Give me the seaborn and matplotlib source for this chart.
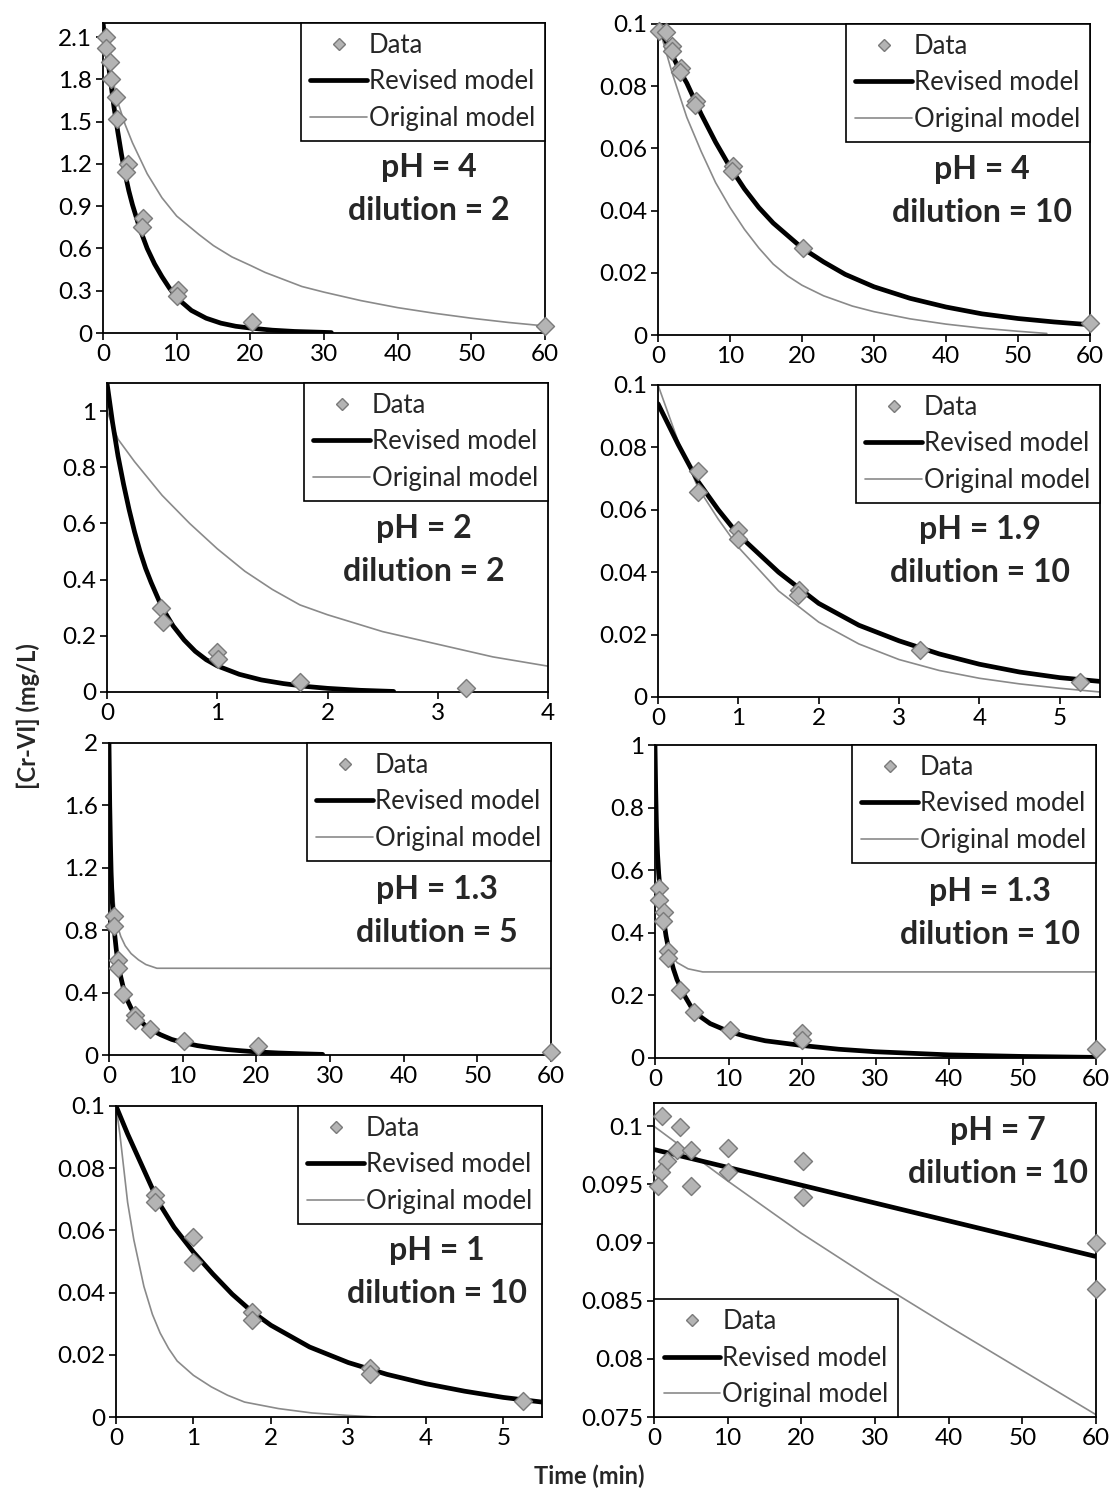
import numpy as np
import pandas as pd
import seaborn as sns
import matplotlib.pyplot as plt
from matplotlib.ticker import FuncFormatter
from matplotlib.lines import Line2D

sns.set_theme(style="ticks")
plt.rcParams['font.family'] = ['Lato', 'DejaVu Sans']

W, H = 1111, 1492

## **Data**

# pH = 4, dilution = 2
p1_t = [0.34, 0.44, 0.93, 1.02, 1.8, 1.9, 3.36, 3.17, 5.46, 5.36, 10.2, 10.0, 20.2, 60]
p1_c = [2.10, 2.02, 1.92, 1.80, 1.675, 1.52, 1.196, 1.144, 0.814, 0.755, 0.307, 0.26, 0.075, 0.047]
p1_rev_t = [0, 0.5, 1, 1.5, 2, 2.5, 3, 3.5, 4, 5, 6, 7, 8, 9, 10, 12, 14, 16, 18, 20, 23, 26, 31]
p1_rev_c = [2.2, 2.0, 1.8, 1.6, 1.43, 1.27, 1.13, 1.01, 0.91, 0.74, 0.6, 0.49, 0.4, 0.32, 0.25,
            0.16, 0.105, 0.07, 0.048, 0.035, 0.02, 0.011, 0.003]
p1_orig_t = [0, 1, 2, 3, 4, 6, 8, 10, 13, 15, 17.5, 20, 22, 25, 27, 30, 35, 40, 45, 50, 55, 60]
p1_orig_c = [2.15, 1.88, 1.64, 1.48, 1.35, 1.13, 0.96, 0.83, 0.7, 0.62, 0.54, 0.48, 0.43, 0.37, 0.33,
             0.29, 0.23, 0.18, 0.14, 0.105, 0.075, 0.05]

# pH = 4, dilution = 10
p2_t = [0.15, 1.1, 1.9, 2.0, 3.2, 3.1, 5.3, 5.2, 10.4, 10.3, 20.2, 60]
p2_c = [0.0978, 0.0973, 0.093, 0.0914, 0.086, 0.0846, 0.0753, 0.0739, 0.0543, 0.0527, 0.028, 0.004]
p2_rev_t = [0, 1, 2, 3, 4, 6, 8, 10, 12, 14, 16, 18, 20, 23, 26, 30, 35, 40, 45, 50, 55, 60]
p2_rev_c = [0.099, 0.095, 0.09, 0.085, 0.081, 0.071, 0.062, 0.054, 0.047, 0.041, 0.036, 0.032, 0.028,
            0.0235, 0.0195, 0.0155, 0.0118, 0.009, 0.0068, 0.0053, 0.0042, 0.0033]
p2_orig_t = [0, 1, 2, 4, 6, 8, 10, 12, 14, 16, 18, 20, 23, 27, 30, 35, 40, 45, 50, 54]
p2_orig_c = [0.1, 0.092, 0.084, 0.07, 0.059, 0.049, 0.041, 0.034, 0.028, 0.0228, 0.019, 0.016, 0.0126,
             0.0093, 0.0075, 0.0052, 0.0035, 0.0022, 0.0012, 0.0005]

# pH = 2, dilution = 2
p3_t = [0.49, 0.51, 1.0, 1.01, 1.75, 3.26]
p3_c = [0.299, 0.248, 0.142, 0.116, 0.037, 0.013]
p3_rev_t = [0, 0.05, 0.1, 0.15, 0.2, 0.25, 0.3, 0.35, 0.4, 0.5, 0.6, 0.7, 0.8, 0.9, 1.0, 1.2, 1.4,
            1.6, 1.8, 2.0, 2.3, 2.6]
p3_rev_c = [1.1, 0.96, 0.84, 0.74, 0.65, 0.57, 0.5, 0.44, 0.39, 0.3, 0.235, 0.185, 0.145, 0.115, 0.093,
            0.063, 0.043, 0.03, 0.02, 0.013, 0.006, 0.002]
p3_orig_t = [0, 0.1, 0.25, 0.5, 0.75, 1, 1.25, 1.5, 1.75, 2, 2.5, 3, 3.5, 4]
p3_orig_c = [1.0, 0.9, 0.82, 0.7, 0.6, 0.51, 0.43, 0.365, 0.31, 0.275, 0.215, 0.17, 0.125, 0.092]

# pH = 1.9, dilution = 10
p4_t = [0.5, 0.5, 1.0, 1.0, 1.75, 1.74, 3.26, 5.25]
p4_c = [0.0725, 0.0658, 0.0535, 0.0508, 0.0342, 0.0326, 0.015, 0.0048]
p4_rev_t = [0, 0.25, 0.5, 0.75, 1, 1.5, 2, 2.5, 3, 3.5, 4, 4.5, 5, 5.5]
p4_rev_c = [0.094, 0.081, 0.069, 0.06, 0.052, 0.04, 0.03, 0.023, 0.018, 0.0138, 0.0105, 0.008, 0.0062, 0.005]
p4_orig_t = [0, 0.25, 0.5, 0.75, 1, 1.5, 2, 2.5, 3, 3.5, 4, 4.5, 5, 5.5]
p4_orig_c = [0.1, 0.082, 0.067, 0.057, 0.048, 0.034, 0.024, 0.017, 0.012, 0.0085, 0.006, 0.0042, 0.0028, 0.0016]

# pH = 1.3, dilution = 5
p5_t = [0.63, 0.63, 1.2, 1.2, 1.94, 3.5, 3.5, 5.56, 10.2, 20.2, 60]
p5_c = [0.892, 0.828, 0.606, 0.555, 0.391, 0.258, 0.226, 0.166, 0.09, 0.06, 0.0215]
p5_rev_t = [0, 0.1, 0.2, 0.3, 0.45, 0.63, 0.8, 1, 1.3, 1.6, 2, 2.5, 3, 4, 5, 6, 7, 8.5, 10, 12, 14,
            16, 18, 20, 23, 26, 29]
p5_rev_c = [2.0, 1.6, 1.35, 1.15, 0.98, 0.86, 0.76, 0.67, 0.57, 0.5, 0.42, 0.35, 0.3, 0.23, 0.185,
            0.155, 0.13, 0.1, 0.08, 0.06, 0.046, 0.035, 0.027, 0.02, 0.013, 0.008, 0.004]
p5_orig_t = [0, 0.1, 0.2, 0.3, 0.5, 0.8, 1.2, 1.6, 2.2, 3, 4, 5, 6.5, 60]
p5_orig_c = [2.0, 1.7, 1.5, 1.32, 1.1, 0.93, 0.82, 0.76, 0.7, 0.65, 0.61, 0.58, 0.556, 0.555]

# pH = 1.3, dilution = 10
p6_t = [0.48, 0.53, 1.2, 1.05, 1.77, 1.82, 3.35, 5.27, 10.2, 20, 20, 60]
p6_c = [0.543, 0.506, 0.466, 0.439, 0.342, 0.32, 0.216, 0.148, 0.089, 0.081, 0.059, 0.028]
p6_rev_t = [0, 0.1, 0.2, 0.35, 0.5, 0.75, 1, 1.5, 2, 2.5, 3, 4, 5, 6, 7.5, 10, 12.5, 15, 20, 25,
            30, 40, 50, 60]
p6_rev_c = [1.0, 0.85, 0.74, 0.65, 0.59, 0.52, 0.47, 0.39, 0.33, 0.285, 0.25, 0.2, 0.16, 0.135, 0.11,
            0.085, 0.068, 0.055, 0.04, 0.028, 0.02, 0.01, 0.005, 0.002]
p6_orig_t = [0, 0.1, 0.2, 0.35, 0.6, 1, 1.5, 2.2, 3, 4.5, 6.5, 60]
p6_orig_c = [1.0, 0.85, 0.72, 0.62, 0.53, 0.45, 0.38, 0.33, 0.305, 0.285, 0.275, 0.275]

# pH = 1, dilution = 10
p7_t = [0.5, 0.5, 1.0, 1.0, 1.76, 1.76, 3.28, 3.28, 5.26]
p7_c = [0.0714, 0.069, 0.0578, 0.050, 0.0337, 0.0312, 0.0158, 0.0139, 0.0053]
p7_rev_t = [0, 0.15, 0.35, 0.55, 0.75, 1, 1.25, 1.5, 1.75, 2, 2.5, 3, 3.5, 4, 4.5, 5, 5.5]
p7_rev_c = [0.1, 0.091, 0.08, 0.069, 0.061, 0.053, 0.046, 0.0395, 0.034, 0.0295, 0.0225, 0.0175, 0.0137,
            0.0107, 0.0083, 0.0063, 0.0048]
p7_orig_t = [0, 0.05, 0.1, 0.15, 0.23, 0.36, 0.47, 0.57, 0.68, 0.79, 1.0, 1.23, 1.44, 1.66, 2.1, 2.53, 3.0, 3.35]
p7_orig_c = [0.1, 0.091, 0.08, 0.069, 0.057, 0.042, 0.033, 0.027, 0.022, 0.018, 0.0134, 0.0097, 0.007,
             0.0048, 0.0027, 0.0013, 0.0005, 0.0]

# pH = 7, dilution = 10
p8_t = [1.05, 3.5, 3.1, 5, 1.7, 0.95, 0.57, 5, 10.1, 10.1, 20.2, 20.2, 60, 60]
p8_c = [0.1009, 0.0999, 0.098, 0.098, 0.097, 0.0961, 0.0949, 0.0949, 0.0981, 0.0961, 0.097, 0.0939, 0.090, 0.086]
p8_rev_t = [0, 60]
p8_rev_c = [0.098, 0.0888]
p8_orig_t = [0, 10, 20, 30, 40, 50, 60]
p8_orig_c = [0.1, 0.0953, 0.0908, 0.0867, 0.0828, 0.079, 0.0752]

## **Layout**

# axes box in pixels: left, top, right, bottom
panels = [
    dict(t=p1_t, c=p1_c, rt=p1_rev_t, rc=p1_rev_c, ot=p1_orig_t, oc=p1_orig_c,
         box=(103, 23, 545, 333), xlim=(0, 60), xt=10, ylim=(0, 2.2), yt=np.arange(0, 2.11, 0.3),
         note="pH = 4\ndilution = 2", note_xy=(429, 189), loc="upper right"),
    dict(t=p2_t, c=p2_c, rt=p2_rev_t, rc=p2_rev_c, ot=p2_orig_t, oc=p2_orig_c,
         box=(658, 24, 1090, 335), xlim=(0, 60), xt=10, ylim=(0, 0.1), yt=np.arange(0, 0.101, 0.02),
         note="pH = 4\ndilution = 10", note_xy=(982, 191), loc="upper right"),
    dict(t=p3_t, c=p3_c, rt=p3_rev_t, rc=p3_rev_c, ot=p3_orig_t, oc=p3_orig_c,
         box=(107, 383, 548, 692), xlim=(0, 4), xt=1, ylim=(0, 1.1), yt=np.arange(0, 1.01, 0.2),
         note="pH = 2\ndilution = 2", note_xy=(424, 550), loc="upper right"),
    dict(t=p4_t, c=p4_c, rt=p4_rev_t, rc=p4_rev_c, ot=p4_orig_t, oc=p4_orig_c,
         box=(658, 385, 1100, 697), xlim=(0, 5.5), xt=1, ylim=(0, 0.1), yt=np.arange(0, 0.101, 0.02),
         note="pH = 1.9\ndilution = 10", note_xy=(980, 551), loc="upper right"),
    dict(t=p5_t, c=p5_c, rt=p5_rev_t, rc=p5_rev_c, ot=p5_orig_t, oc=p5_orig_c,
         box=(109, 743, 551, 1055), xlim=(0, 60), xt=10, ylim=(0, 2), yt=np.arange(0, 2.01, 0.4),
         note="pH = 1.3\ndilution = 5", note_xy=(437, 911), loc="upper right"),
    dict(t=p6_t, c=p6_c, rt=p6_rev_t, rc=p6_rev_c, ot=p6_orig_t, oc=p6_orig_c,
         box=(655, 745, 1096, 1058), xlim=(0, 60), xt=10, ylim=(0, 1), yt=np.arange(0, 1.01, 0.2),
         note="pH = 1.3\ndilution = 10", note_xy=(990, 913), loc="upper right"),
    dict(t=p7_t, c=p7_c, rt=p7_rev_t, rc=p7_rev_c, ot=p7_orig_t, oc=p7_orig_c,
         box=(116, 1106, 542, 1417), xlim=(0, 5.5), xt=1, ylim=(0, 0.1), yt=np.arange(0, 0.101, 0.02),
         note="pH = 1\ndilution = 10", note_xy=(437, 1272), loc="upper right"),
    dict(t=p8_t, c=p8_c, rt=p8_rev_t, rc=p8_rev_c, ot=p8_orig_t, oc=p8_orig_c,
         box=(654, 1103, 1096, 1417), xlim=(0, 60), xt=10, ylim=(0.075, 0.102), yt=np.arange(0.075, 0.1001, 0.005),
         note="pH = 7\ndilution = 10", note_xy=(998, 1152), loc="lower left"),
]

fig = plt.figure(figsize=(W / 100, H / 100), dpi=100)

fmt = FuncFormatter(lambda v, p: "%g" % round(v, 4))

handles = [
    Line2D([], [], marker="D", ls="none", markersize=6, markerfacecolor="#b4b4b4",
           markeredgecolor="#7a7a7a", markeredgewidth=1),
    Line2D([], [], color="black", lw=3.4),
    Line2D([], [], color="#8a8a8a", lw=1.2),
]
labels = ["Data", "Revised model", "Original model"]

for d in panels:
    l, t, r, b = d["box"]
    ax = fig.add_axes([l / W, 1 - b / H, (r - l) / W, (b - t) / H])

    sns.lineplot(x=d["ot"], y=d["oc"], ax=ax, color="#8a8a8a", lw=1.2, sort=False, estimator=None, legend=False)
    sns.lineplot(x=d["rt"], y=d["rc"], ax=ax, color="black", lw=3.4, sort=False, estimator=None, legend=False)
    sns.scatterplot(x=d["t"], y=d["c"], ax=ax, marker="D", s=84, color="#b4b4b4",
                    edgecolor="#7a7a7a", linewidth=1, zorder=5, clip_on=False, legend=False)

    ax.set_xlim(*d["xlim"])
    ax.set_ylim(*d["ylim"])
    ax.set_xticks(np.arange(d["xlim"][0], d["xlim"][1] + 1e-9, d["xt"]))
    ax.set_yticks(d["yt"])
    ax.xaxis.set_major_formatter(fmt)
    ax.yaxis.set_major_formatter(fmt)
    ax.tick_params(direction="out", length=5, width=1.2, labelsize=17.5, colors="black", pad=3)
    for s in ax.spines.values():
        s.set_visible(True)
        s.set_color("black")
        s.set_linewidth(1.3)

    leg = ax.legend(handles, labels, loc=d["loc"], borderaxespad=0, frameon=True, fancybox=False,
                    edgecolor="black", framealpha=1, fontsize=18.5, handlelength=2.2,
                    handletextpad=0.08, labelspacing=0.45, borderpad=0.38)
    leg.get_frame().set_linewidth(1.2)
    leg.set_zorder(10)

    fig.text(d["note_xy"][0] / W, 1 - d["note_xy"][1] / H, d["note"], ha="center", va="center",
             fontsize=23, fontweight="bold", linespacing=1.55)

fig.text(28 / W, 1 - 716 / H, "[Cr-VI] (mg/L)", rotation=90, ha="center", va="center",
         fontsize=17, fontweight="bold")
fig.text(589 / W, 1 - 1476 / H, "Time (min)", ha="center", va="center", fontsize=17, fontweight="bold")

fig.savefig("out.png", dpi=100, facecolor="white")
